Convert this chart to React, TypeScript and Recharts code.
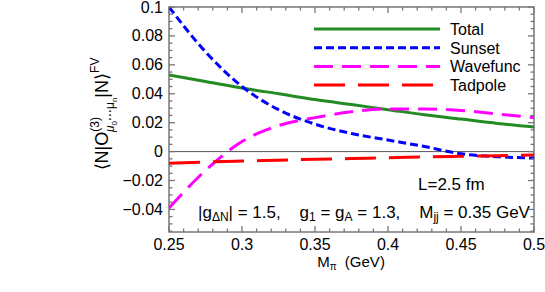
import React from 'react';
import {
  LineChart,
  Line,
  XAxis,
  YAxis,
  ReferenceLine,
  Customized,
} from 'recharts';

// M_pi values (GeV)
const mPi = [0.25, 0.275, 0.3, 0.325, 0.35, 0.375, 0.4, 0.425, 0.45, 0.475, 0.5];
const total = [0.053, 0.0485, 0.044, 0.04, 0.036, 0.0325, 0.029, 0.0255, 0.0225, 0.0195, 0.017];
const sunset = [0.1, 0.069, 0.045, 0.029, 0.019, 0.0125, 0.008, 0.0035, -0.0015, -0.0035, -0.0045];
const wavefunc = [-0.039, -0.013, 0.007, 0.018, 0.0235, 0.0275, 0.0295, 0.0295, 0.0285, 0.026, 0.0235];
const tadpole = [-0.008, -0.0072, -0.0065, -0.0059, -0.0053, -0.0048, -0.0043, -0.0037, -0.0032, -0.0028, -0.0024];

const xMajor = [0.25, 0.3, 0.35, 0.4, 0.45, 0.5];
const xMinor = [0.26, 0.27, 0.28, 0.29, 0.31, 0.32, 0.33, 0.34, 0.36, 0.37, 0.38, 0.39,
  0.41, 0.42, 0.43, 0.44, 0.46, 0.47, 0.48, 0.49];
const yMajor = [-0.04, -0.02, 0, 0.02, 0.04, 0.06, 0.08, 0.1];
const yMinor = [-0.055, -0.05, -0.045, -0.035, -0.03, -0.025, -0.015, -0.01, -0.005,
  0.005, 0.01, 0.015, 0.025, 0.03, 0.035, 0.045, 0.05, 0.055, 0.065, 0.07, 0.075,
  0.085, 0.09, 0.095];
const xDomain = [0.25, 0.5];
const yDomain = [-0.0556, 0.1];

const data = mPi.map((m, i) => ({
  m,
  total: total[i],
  sunset: sunset[i],
  wavefunc: wavefunc[i],
  tadpole: tadpole[i],
}));

const series = [
  { key: 'total', name: 'Total', color: '#228b22', dash: undefined },
  { key: 'sunset', name: 'Sunset', color: '#0000ff', dash: '8 4' },
  { key: 'wavefunc', name: 'Wavefunc', color: '#ff00ff', dash: '19 9' },
  { key: 'tadpole', name: 'Tadpole', color: '#ff0000', dash: '31 13' },
];

const FONT = '"Liberation Sans", Arial, Helvetica, sans-serif';
const FRAME = '#777';

// plot area (from chart margins and axis sizes below)
const PLOT = { left: 169, top: 7, right: 534, bottom: 232 };

const isMajor = (v: number, majors: number[]) => majors.some((t) => Math.abs(t - v) < 1e-9);

const fmtY = (v: number) => {
  if (Math.abs(v) < 1e-9) return '0';
  const s = String(Math.abs(v));
  return v < 0 ? '\u2212' + s : s;
};

const BottomTick = (props: any) => {
  const { x, y, payload } = props;
  const major = isMajor(payload.value, xMajor);
  return (
    <g>
      <path d={`M${x},${y}V${y - (major ? 6 : 3.5)}`} stroke={FRAME} strokeWidth={1.3} fill="none" />
      {major && (
        <text x={x} y={y + 18} textAnchor="middle" fontSize={16} fontFamily={FONT} fill="#000" stroke="none">
          {String(payload.value)}
        </text>
      )}
    </g>
  );
};

const TopTick = (props: any) => {
  const { x, y, payload } = props;
  const major = isMajor(payload.value, xMajor);
  return <path d={`M${x},${y}V${y + (major ? 6 : 3.5)}`} stroke={FRAME} strokeWidth={1.3} fill="none" />;
};

const LeftTick = (props: any) => {
  const { x, y, payload } = props;
  const major = isMajor(payload.value, yMajor);
  return (
    <g>
      <path d={`M${x},${y}H${x + (major ? 6 : 3.5)}`} stroke={FRAME} strokeWidth={1.3} fill="none" />
      {major && (
        <text x={x - 6} y={y + 5.5} textAnchor="end" fontSize={16} fontFamily={FONT} fill="#000" stroke="none">
          {fmtY(payload.value)}
        </text>
      )}
    </g>
  );
};

const RightTick = (props: any) => {
  const { x, y, payload } = props;
  const major = isMajor(payload.value, yMajor);
  return <path d={`M${x},${y}H${x - (major ? 6 : 3.5)}`} stroke={FRAME} strokeWidth={1.3} fill="none" />;
};

const Annotations = () => (
  <g fontFamily={FONT} fill="#000">
    {/* frame */}
    <rect
      x={PLOT.left}
      y={PLOT.top}
      width={PLOT.right - PLOT.left}
      height={PLOT.bottom - PLOT.top}
      fill="none"
      stroke={FRAME}
      strokeWidth={1.5}
    />

    {/* legend */}
    {series.map((s, i) => (
      <g key={s.key}>
        <line
          x1={314}
          x2={440}
          y1={29 + i * 18.7}
          y2={29 + i * 18.7}
          stroke={s.color}
          strokeWidth={3}
          strokeDasharray={s.dash}
        />
        <text x={450} y={29 + i * 18.7 + 6} fontSize={16}>
          {s.name}
        </text>
      </g>
    ))}

    {/* y axis label */}
    <text transform="translate(108,114) rotate(-90)" textAnchor="middle" fontSize={18}>
      {'\u27e8N|O'}
      <tspan fontSize={12} dy={-9}>(3)</tspan>
      <tspan fontSize={12} dx={-15} dy={15} fontStyle="italic">μ</tspan>
      <tspan fontSize={8} dy={3}>0</tspan>
      <tspan fontSize={12} dy={-3}>{'\u22efμ'}</tspan>
      <tspan fontSize={8} dy={3}>n</tspan>
      <tspan fontSize={18} dy={-9}>{'|N\u27e9'}</tspan>
      <tspan fontSize={12} dy={-9}>FV</tspan>
    </text>

    {/* x axis label */}
    <text x={351} y={267} textAnchor="middle" fontSize={15} style={{ whiteSpace: 'pre' }}>
      M<tspan fontSize={10} dy={3}>π</tspan>
      <tspan dy={-3}>{'  (GeV)'}</tspan>
    </text>

    <text x={418} y={190} fontSize={17}>L=2.5 fm</text>

    <text x={198} y={218} fontSize={17} style={{ whiteSpace: 'pre' }}>
      |g<tspan fontSize={12} dy={3}>ΔN</tspan>
      <tspan dy={-3}>{'| = 1.5,    g'}</tspan>
      <tspan fontSize={12} dy={3}>1</tspan>
      <tspan dy={-3}>{' = g'}</tspan>
      <tspan fontSize={12} dy={3}>A</tspan>
      <tspan dy={-3}>{' = 1.3,    M'}</tspan>
      <tspan fontSize={12} dy={3}>jj</tspan>
      <tspan dy={-3}>{' = 0.35 GeV'}</tspan>
    </text>
  </g>
);

export default function App() {
  const xTicks = [...xMajor, ...xMinor].sort((a, b) => a - b);
  const yTicks = [...yMajor, ...yMinor].sort((a, b) => a - b);
  return (
    <div style={{ position: 'absolute', left: 0, top: 0, background: '#fff' }}>
      <LineChart
        width={545}
        height={292}
        data={data}
        margin={{ top: 6, right: 10, bottom: 59, left: 0 }}
      >
        <XAxis
          xAxisId="b"
          dataKey="m"
          type="number"
          domain={xDomain}
          allowDataOverflow
          ticks={xTicks}
          interval={0}
          height={1}
          tickSize={0}
          tickMargin={0}
          axisLine={false}
          tickLine={false}
          tick={<BottomTick />}
        />
        <XAxis
          xAxisId="t"
          orientation="top"
          dataKey="m"
          type="number"
          domain={xDomain}
          allowDataOverflow
          ticks={xTicks}
          interval={0}
          height={1}
          tickSize={0}
          tickMargin={0}
          axisLine={false}
          tickLine={false}
          tick={<TopTick />}
        />
        <YAxis
          yAxisId="l"
          type="number"
          domain={yDomain}
          allowDataOverflow
          ticks={yTicks}
          interval={0}
          width={169}
          tickSize={0}
          tickMargin={0}
          axisLine={false}
          tickLine={false}
          tick={<LeftTick />}
        />
        <YAxis
          yAxisId="r"
          orientation="right"
          type="number"
          domain={yDomain}
          allowDataOverflow
          ticks={yTicks}
          interval={0}
          width={1}
          tickSize={0}
          tickMargin={0}
          axisLine={false}
          tickLine={false}
          tick={<RightTick />}
        />
        <ReferenceLine xAxisId="b" yAxisId="l" y={0} stroke="#555" strokeWidth={1} />
        {series.map((s) => (
          <Line
            key={s.key}
            xAxisId="b"
            yAxisId="l"
            type="monotone"
            dataKey={s.key}
            name={s.name}
            stroke={s.color}
            strokeWidth={3}
            strokeDasharray={s.dash}
            dot={false}
            activeDot={false}
            isAnimationActive={false}
          />
        ))}
        <Customized component={Annotations} />
      </LineChart>
    </div>
  );
}
